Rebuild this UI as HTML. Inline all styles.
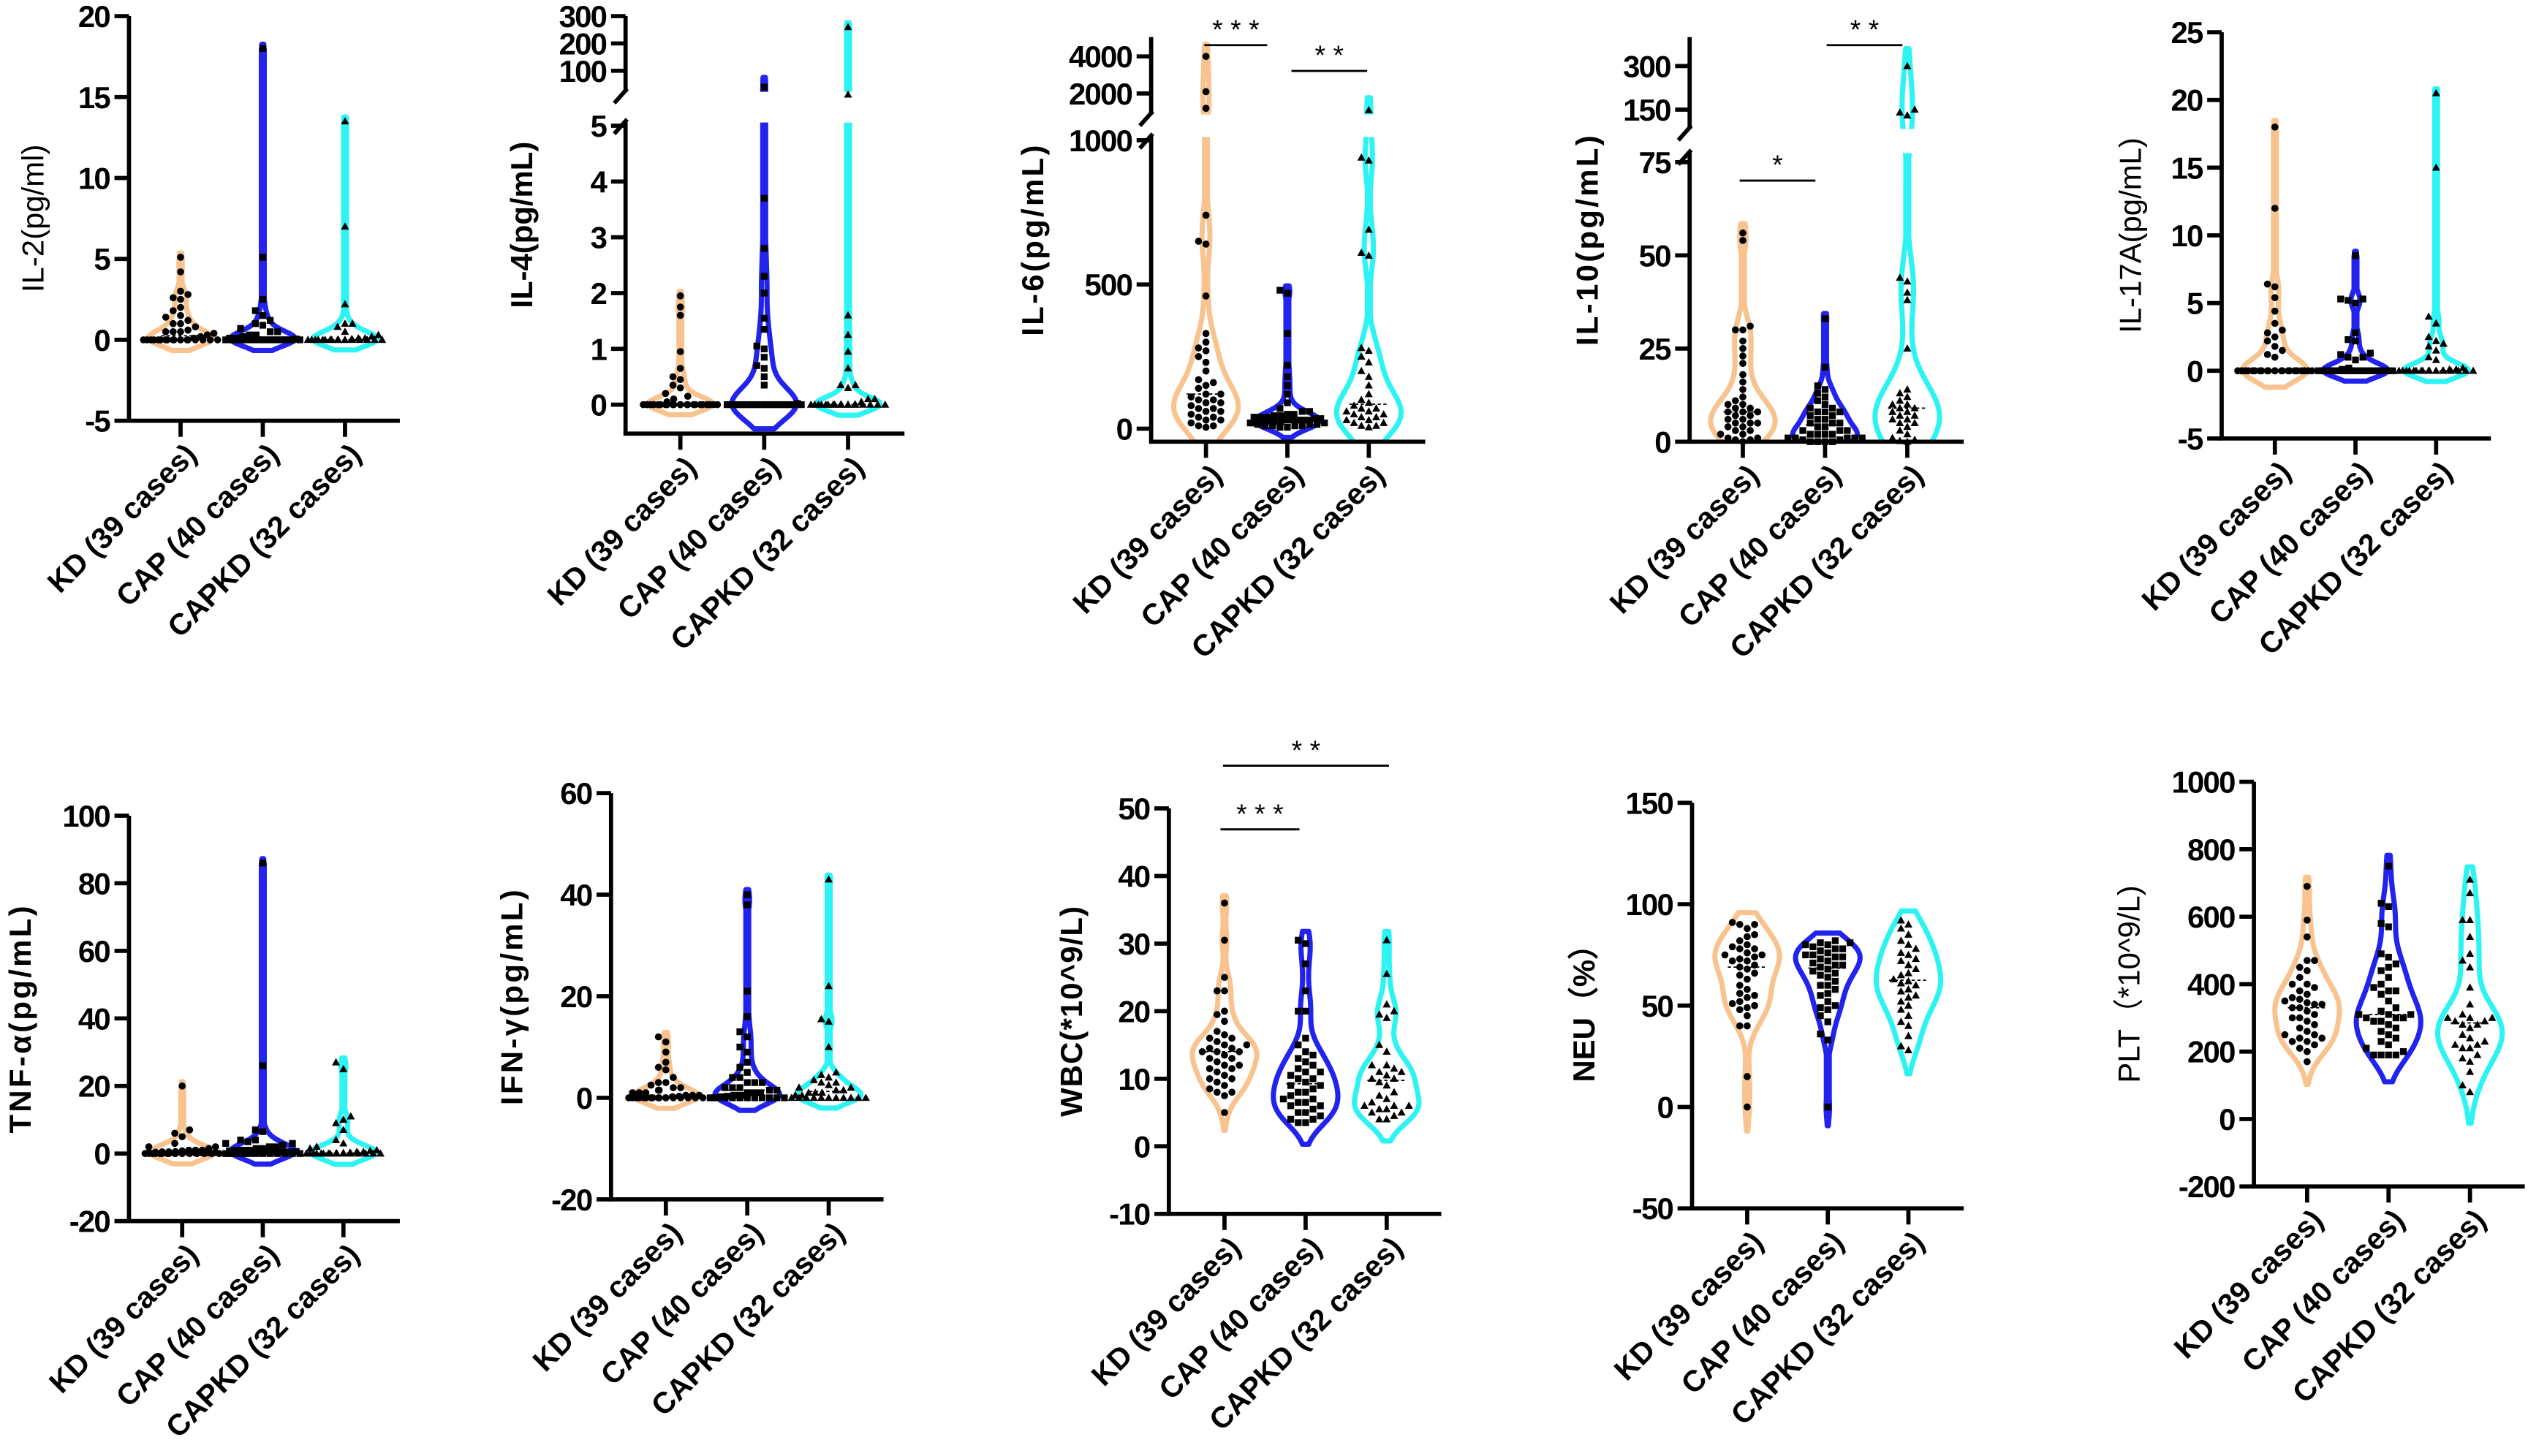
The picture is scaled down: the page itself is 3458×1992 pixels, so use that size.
<!DOCTYPE html>
<html><head><meta charset="utf-8"><style>
html,body{margin:0;padding:0;background:#fff;}
svg{display:block;}
text{font-family:"Liberation Sans",Arial,sans-serif;}
</style></head>
<body>
<svg id="fig" xmlns="http://www.w3.org/2000/svg" width="3458" height="1992" viewBox="0 0 1568 903.2" preserveAspectRatio="none"></svg>
<script>
const categories = ["KD (39 cases)", "CAP (40 cases)", "CAPKD (32 cases)"];
const colors = ["#F8C38E", "#2323EE", "#2EF3F3"];

const il2Ticks = [-5,0,5,10,15,20];
const il2KD = [0,0,0,0,0,0,0,0,0,0,0,0,0,0,0,0,0,0,0.1,0.2,0.3,0.4,0.5,0.5,0.5,0.6,0.8,1,1,1.2,1.4,1.5,1.8,2,2.5,2.6,2.8,3,4.2,5.1];
const il2CAP = [0,0,0,0,0,0,0,0,0,0,0,0,0,0,0,0,0,0,0,0,0,0.05,0.1,0.1,0.2,0.3,0.3,0.5,0.5,0.7,0.9,1,1.2,1.5,1.8,2.5,5.1,18];
const il2CAPKD = [0,0,0,0,0,0,0,0,0,0,0,0,0,0,0,0,0,0.05,0.1,0.1,0.2,0.3,0.5,0.8,1,1,2.2,7,13.5];

const il4LowTicks = [0,1,2,3,4,5];
const il4UpTicks = [100,200,300];
const il4KD = [0,0,0,0,0,0,0,0,0,0,0,0,0,0,0,0,0,0,0,0,0,0,0,0,0,0.05,0.1,0.15,0.2,0.3,0.35,0.45,0.5,0.65,0.95,1.6,1.75,1.95];
const il4CAP = [0,0,0,0,0,0,0,0,0,0,0,0,0,0,0,0,0,0,0,0,0,0.02,0.35,0.5,0.65,0.7,0.85,1,1.05,1.35,1.55,2,2.3,2.8,3.7,40];
const il4CAPKD = [0,0,0,0,0,0,0,0,0,0,0,0,0,0,0,0,0,0,0.05,0.1,0.1,0.3,0.35,0.35,0.65,0.95,1.25,1.6,13,260];

const il6LowTicks = [0,500,1000];
const il6UpTicks = [2000,4000];
const il6KD = [4000,2100,1200,740,650,640,460,330,300,280,270,250,230,200,170,160,150,140,120,110,100,100,90,80,70,60,60,50,40,40,30,30,20,10,10,5,120,90,70];
const il6CAP = [480,470,330,220,180,150,120,90,70,60,50,45,40,40,35,30,30,30,25,25,20,20,20,15,15,15,10,10,10,10,5,5,50,40,35,60,25,20,30,45];
const il6CAPKD = [1100,940,930,690,610,600,280,270,250,230,200,180,150,120,100,90,80,70,70,60,60,50,50,40,40,30,30,20,20,10,10,5];

const il10LowTicks = [0,25,50,75];
const il10UpTicks = [150,300];
const il10KD = [56,54,31,30,30,27,25,23,21,18,16,14,12,11,10,10,9,9,8,8,8,7,7,6,6,5,5,5,4,4,3,3,2,2,1,1,0.5,0.5,0];
const il10CAP = [33,20,15,14,13,12,11,10,9,9,8,8,8,7,7,6,6,5,5,5,4,4,3,3,3,2,2,2,2,1,1,1,1,1,0.5,0.5,0,0,0,0];
const il10CAPKD = [300,150,140,130,44,43,40,38,25,14,13,12,11,10,10,9,9,8,8,7,7,6,6,5,5,4,3,2,1,0.5,0.2,0];

const il17Ticks = [-5,0,5,10,15,20,25];
const il17KD = [0,0,0,0,0,0,0,0,0,0,0,0,0,0,0,0,0,0,0,0,0,0,1,1.2,1.5,1.8,2.2,2.5,2.8,3,3.5,4.4,5.4,6.2,6.4,12,18];
const il17CAP = [0,0,0,0,0,0,0,0,0,0,0,0,0,0,0,0,0,0,0,0,0,0,0,0,0,0.1,0.2,0.8,1,1,1.2,1.3,2.2,2.3,2.8,5,5.2,5.3,5.3,8.5];
const il17CAPKD = [0,0,0,0,0,0,0,0,0,0,0,0,0,0,0,0,0,0,0.1,0.1,0.2,0.8,1,1.5,1.8,2,2.2,2.5,3.5,4,15,20.5];

const tnfTicks = [-20,0,20,40,60,80,100];
const tnfKD = [20,7,6,5,3,2,2,1.5,1,1,1,0.8,0.6,0.5,0.5,0.4,0.3,0.3,0.2,0.2,0.1,0.1,0,0,0,0,0,0,0,0,0,0,0,0,0,0,0,0,0];
const tnfCAP = [86,26,7,6.5,4,4,3.5,3,3,2.5,2,2,1.5,1.5,1,1,1,0.8,0.6,0.5,0.5,0.4,0.3,0.2,0.2,0.1,0,0,0,0,0,0,0,0,0,0,0,0,0,0];
const tnfCAPKD = [27,25,11,10,9,7,4,3,2,1.5,1,0.8,0.5,0.5,0.3,0.2,0.1,0,0,0,0,0,0,0,0,0,0,0,0,0,0,0];

const ifnTicks = [-20,0,20,40,60];
const ifnKD = [12,11,9,7,6,5.5,4,3,3,2.5,2,2,1.5,1.5,1,1,1,0.5,0.5,0.5,0.3,0.2,0,0,0,0,0,0,0,0,0,0,0,0,0,0,0,0,0];
const ifnCAP = [40,38,21,16,13,12,10,9,7,6,5,4,4,3,3,3,2,2,2,1.5,1.5,1,1,1,0.5,0.5,0.3,0.2,0,0,0,0,0,0,0,0,0,0,0,0];
const ifnCAPKD = [43,22,15.5,15,10,5,4.5,4,3.5,3,3,2.5,2,2,1.5,1.5,1,1,1,0.5,0.5,0,0,0,0,0,0,0,0,0,0,0];

const wbcTicks = [-10,0,10,20,30,40,50];
const wbcKD = [36,30.5,25,23,23,20,19.5,18.5,17,16.5,16,16,15.5,15,15,14.5,14.5,14,14,13.5,13,13,12.5,12,12,11.5,11.5,11,10.5,10,10,9.5,9,8.5,8,8,7.5,5,14];
const wbcCAP = [30.5,30,27,23,20,20,16,15,14,13.5,13,12.5,12,11.5,11,11,10.5,10,10,9.5,9,9,8.5,8,8,7.5,7,7,6.5,6.5,6,6,5.5,5,5,4.5,4,4,3.5,3.5];
const wbcCAPKD = [30.5,25.5,21,20,19.5,19,15,14,12,12,11.5,11,11,10.5,10,10,9.5,9,8,7.5,7,6.5,6,6,6,5.5,5.5,5,5,4.5,4,4];

const neuTicks = [-50,0,50,100,150];
const neuKD = [91,90,90,88,85,84,82,80,79,78,78,76,75,75,74,73,72,72,70,69,68,66,65,63,60,58,56,55,54,52,51,50,49,48,45,40,40,15,0];
const neuCAP = [82,81,81,80,80,79,78,78,77,76,75,75,74,74,73,72,71,70,70,69,68,67,66,65,64,62,60,58,56,55,52,50,49,48,45,42,36,33,0,60];
const neuCAPKD = [92,90,88,85,82,80,78,76,75,73,72,70,68,66,65,63,62,61,60,58,57,55,54,52,50,48,45,42,40,35,30,28];

const pltTicks = [-200,0,200,400,600,800,1000];
const pltKD = [690,590,540,470,470,450,440,420,400,400,390,380,370,360,355,350,345,340,340,330,320,310,300,290,280,270,260,250,250,240,240,230,230,220,210,200,170,330,300];
const pltCAP = [750,640,630,580,570,490,480,460,450,440,420,400,390,380,380,370,330,320,310,310,300,300,290,280,270,260,250,240,230,220,210,200,190,190,190,190,300,290,310,350];
const pltCAPKD = [710,670,590,590,540,490,470,450,390,340,310,300,300,290,290,280,280,270,250,240,230,220,220,210,210,190,180,170,140,100,80,300];

const panels = [
 {id:'il2', title:'IL-2(pg/ml)', bold:false, sp:0, ax:80, axTop:10, xAxisY:261, cx0:112, cs:51, axEnd:248, titleX:20,
  segs:[{d0:-5,d1:20,p0:261,p1:10}], ticks:[il2Ticks], data:[il2KD,il2CAP,il2CAPKD]},
 {id:'il4', title:'IL-4(pg/mL)', bold:true, sp:0, ax:388, axTop:10, xAxisY:269, cx0:422, cs:52, axEnd:561, titleX:323,
  segs:[{d0:-0.52,d1:5,p0:269,p1:78},{d0:5,d1:300,p0:60,p1:10}], gap:[57,76], ticks:[il4LowTicks,il4UpTicks], data:[il4KD,il4CAP,il4CAPKD]},
 {id:'il6', title:'IL-6(pg/mL)', bold:true, sp:1.5, ax:714, axTop:23, xAxisY:274, cx0:748, cs:50.5, axEnd:884, titleX:640,
  segs:[{d0:-45,d1:1000,p0:274,p1:87},{d0:1000,d1:4200,p0:69.5,p1:32.7}], gap:[71,85], ticks:[il6LowTicks,il6UpTicks], data:[il6KD,il6CAP,il6CAPKD]},
 {id:'il10', title:'IL-10(pg/mL)', bold:true, sp:1.5, ax:1048, axTop:23, xAxisY:274, cx0:1081, cs:51, axEnd:1218, titleX:984,
  segs:[{d0:0,d1:75,p0:274,p1:100.6},{d0:100,d1:330,p0:77,p1:35.6}], gap:[80,95], ticks:[il10LowTicks,il10UpTicks], data:[il10KD,il10CAP,il10CAPKD]},
 {id:'il17a', title:'IL-17A(pg/mL)', bold:false, sp:0, ax:1378, axTop:20, xAxisY:272, cx0:1411, cs:50, axEnd:1545, titleX:1321,
  segs:[{d0:-5,d1:25,p0:272,p1:20}], ticks:[il17Ticks], data:[il17KD,il17CAP,il17CAPKD]},
 {id:'tnf', title:'TNF-α(pg/mL)', bold:true, sp:1.5, ax:80, axTop:506, xAxisY:757.5, cx0:113, cs:50, axEnd:248, titleX:12,
  segs:[{d0:-20,d1:100,p0:757.5,p1:506}], ticks:[tnfTicks], data:[tnfKD,tnfCAP,tnfCAPKD]},
 {id:'ifn', title:'IFN-γ(pg/mL)', bold:true, sp:1.5, ax:379, axTop:492, xAxisY:744, cx0:413, cs:50.5, axEnd:548, titleX:317,
  segs:[{d0:-20,d1:60,p0:744,p1:492}], ticks:[ifnTicks], data:[ifnKD,ifnCAP,ifnCAPKD]},
 {id:'wbc', title:'WBC(*10^9/L)', bold:true, sp:0.5, ax:725, axTop:501.5, xAxisY:753, cx0:759.5, cs:50.3, axEnd:894, titleX:664,
  segs:[{d0:-10,d1:50,p0:753,p1:501.5}], ticks:[wbcTicks], data:[wbcKD,wbcCAP,wbcCAPKD]},
 {id:'neu', title:'NEU（%）', bold:true, sp:0, ax:1049.5, axTop:498, xAxisY:749.6, cx0:1083.7, cs:50, axEnd:1218, titleX:982,
  segs:[{d0:-50,d1:150,p0:749.6,p1:498}], ticks:[neuTicks], data:[neuKD,neuCAP,neuCAPKD]},
 {id:'plt', title:'PLT（*10^9/L)', bold:false, sp:0, ax:1398, axTop:485, xAxisY:736, cx0:1431, cs:50.5, axEnd:1566, titleX:1320,
  segs:[{d0:-200,d1:1000,p0:736,p1:485}], ticks:[pltTicks], data:[pltKD,pltCAP,pltCAPKD]}
];

const sigs = [
 {panel:'il6', label:'* * *', x1:747, x2:786, y:28},
 {panel:'il6', label:'* *', x1:801, x2:848, y:44},
 {panel:'il10', label:'*', x1:1079, x2:1126, y:112},
 {panel:'il10', label:'* *', x1:1133, x2:1180, y:28},
 {panel:'wbc', label:'* *', x1:758.6, x2:861.5, y:475},
 {panel:'wbc', label:'* * *', x1:757, x2:806, y:514.5}
];

const NS = 'http://www.w3.org/2000/svg';
const svg = document.getElementById('fig');
function mk(tag, attrs, parent){
  const e = document.createElementNS(NS, tag);
  for (const k in attrs) e.setAttribute(k, attrs[k]);
  (parent||svg).appendChild(e);
  return e;
}
function makeScale(segs){
  return v => {
    let s = segs[0];
    if (segs.length > 1 && v > segs[0].d1) s = segs[1];
    return s.p0 + (v - s.d0) * (s.p1 - s.p0) / (s.d1 - s.d0);
  };
}
function quant(a, q){ const i=(a.length-1)*q, lo=Math.floor(i), hi=Math.ceil(i); return a[lo]+(a[hi]-a[lo])*(i-lo); }

const defs = mk('defs', {});

panels.forEach(p => {
  const g = mk('g', {});
  
  
  const y = makeScale(p.segs);

  const cp = mk('clipPath', {id:'clip-'+p.id}, defs);
  if (p.gap) {
    mk('rect', {x:p.ax+1, y:0, width:p.axEnd-p.ax, height:p.gap[0]}, cp);
    mk('rect', {x:p.ax+1, y:p.gap[1], width:p.axEnd-p.ax, height:p.xAxisY-1.2-p.gap[1]}, cp);
  } else {
    mk('rect', {x:p.ax+1, y:0, width:p.axEnd-p.ax, height:p.xAxisY-1.2}, cp);
  }
  const vg = mk('g', {'clip-path':'url(#clip-'+p.id+')'}, g);

  p.data.forEach((vals, gi) => {
    const cx = p.cx0 + gi * p.cs;
    const ys = vals.map(y).sort((a,b)=>a-b);
    const n = ys.length;
    const mean = ys.reduce((s,v)=>s+v,0)/n;
    const sd = Math.sqrt(ys.reduce((s,v)=>s+(v-mean)*(v-mean),0)/(n-1));
    const iqr = quant(ys,0.75)-quant(ys,0.25);
    let spread = Math.min(sd, iqr/1.34);
    if (!(spread > 0)) spread = 0;
    const bw = Math.max(4.5, 0.9*spread*Math.pow(n,-0.2));
    const lo = ys[0]-0.6*bw, hi = ys[n-1]+1.5*bw;
    const pts = [];
    let maxD = 0;
    for (let t = lo; t <= hi; t += 0.5) {
      let d = 0;
      for (const yi of ys) { const z=(t-yi)/bw; d += Math.exp(-0.5*z*z); }
      pts.push([t,d]); if (d>maxD) maxD=d;
    }
    const W = 20;
    const hw = pts.map(([t,d]) => {
      let w = d/maxD*W;
      if (t >= ys[0] && t <= ys[n-1]) w = Math.max(w, 0.9);
      return [t,w];
    });
    let dstr = 'M' + hw.map(([t,w]) => (cx-w).toFixed(2)+','+t.toFixed(2)).join(' L');
    dstr += ' L' + hw.slice().reverse().map(([t,w]) => (cx+w).toFixed(2)+','+t.toFixed(2)).join(' L') + ' Z';
    const v = mk('path', {d:dstr, fill:'#fff', stroke:colors[gi], 'stroke-width':3.2, 'stroke-linejoin':'round'}, vg);
    
    
    const med = quant(ys,0.5);
    mk('line', {x1:cx-12, x2:cx+12, y1:med, y2:med, stroke:'#000', 'stroke-width':0.8, 'stroke-dasharray':'2,1.5'}, vg);
  });

  p.data.forEach((vals, gi) => {
    const cx = p.cx0 + gi * p.cs;
    const dg = mk('g', {}, g);
    
    
    const placed = [];
    const d = 4.6;
    const ysOrd = vals.map(y).sort((a,b)=>b-a);
    ysOrd.forEach((py, i) => {
      let px = null;
      for (let k = 0; k <= 5 && px === null; k++) {
        for (const sgn of (k===0?[1]:[-1,1])) {
          const x = cx + sgn*k*d;
          if (!placed.some(q => Math.abs(q[0]-x) < d*0.95 && Math.abs(q[1]-py) < d*0.95)) { px = x; break; }
        }
      }
      if (px === null) px = cx + ((i % 11) - 5) * d * 0.9;
      placed.push([px, py]);
      if (gi === 0) mk('circle', {cx:px, cy:py, r:2.2, fill:'#000'}, dg);
      else if (gi === 1) mk('rect', {x:px-2.1, y:py-2.1, width:4.2, height:4.2, fill:'#000'}, dg);
      else mk('path', {d:`M${px},${py-2.6} L${px+2.5},${py+1.9} L${px-2.5},${py+1.9} Z`, fill:'#000'}, dg);
    });
  });

  const A = {stroke:'#000', 'stroke-width':2.6, fill:'none'};
  const xa = mk('line', Object.assign({x1:p.ax-1.3, x2:p.axEnd, y1:p.xAxisY, y2:p.xAxisY}, A), g);
  
  
  const yg = mk('g', {}, g);
  
  
  if (p.gap) {
    mk('line', Object.assign({x1:p.ax, x2:p.ax, y1:p.axTop, y2:p.gap[0]}, A), yg);
    mk('line', Object.assign({x1:p.ax, x2:p.ax, y1:p.gap[1], y2:p.xAxisY}, A), yg);
    mk('line', Object.assign({x1:p.ax-7, x2:p.ax+1, y1:p.gap[0]+7, y2:p.gap[0]-2}, A), yg);
    mk('line', Object.assign({x1:p.ax-7, x2:p.ax+1, y1:p.gap[1]+7, y2:p.gap[1]-2}, A), yg);
  } else {
    mk('line', Object.assign({x1:p.ax, x2:p.ax, y1:p.axTop, y2:p.xAxisY}, A), yg);
  }
  p.ticks.forEach(arr => arr.forEach(tv => {
    const ty = y(tv);
    mk('line', Object.assign({x1:p.ax-9, x2:p.ax, y1:ty, y2:ty}, A), yg);
    const t = mk('text', {x:p.ax-12, y:ty+6.8, 'text-anchor':'end', 'font-size':19, 'font-weight':'bold', 'letter-spacing':'-0.8'}, yg);
    t.textContent = tv;
    
    
  }));
  categories.forEach((c, ci) => {
    const cx = p.cx0 + ci * p.cs;
    mk('line', Object.assign({x1:cx, x2:cx, y1:p.xAxisY, y2:p.xAxisY+10}, A), g);
    const t = mk('text', {transform:`translate(${cx+11},${p.xAxisY+22}) rotate(-45)`, 'text-anchor':'end', 'font-size':18.5, 'font-weight':'bold'}, g);
    t.textContent = c;
    
    
  });
  const cy = (p.axTop + p.xAxisY) / 2;
  const tt = mk('text', {transform:`translate(${p.titleX+7},${cy}) rotate(-90)`, 'text-anchor':'middle', 'font-size':19, 'font-weight':p.bold?'bold':'normal', 'letter-spacing':p.sp}, g);
  tt.textContent = p.title;
  
  
});

sigs.forEach(s => {
  const g = mk('g', {});
  
  
  mk('line', {x1:s.x1, x2:s.x2, y1:s.y, y2:s.y, stroke:'#000', 'stroke-width':1.3}, g);
  const t = mk('text', {x:(s.x1+s.x2)/2, y:s.y-4, 'text-anchor':'middle', 'font-size':17}, g);
  t.textContent = s.label;
});
</script>
</body></html>
